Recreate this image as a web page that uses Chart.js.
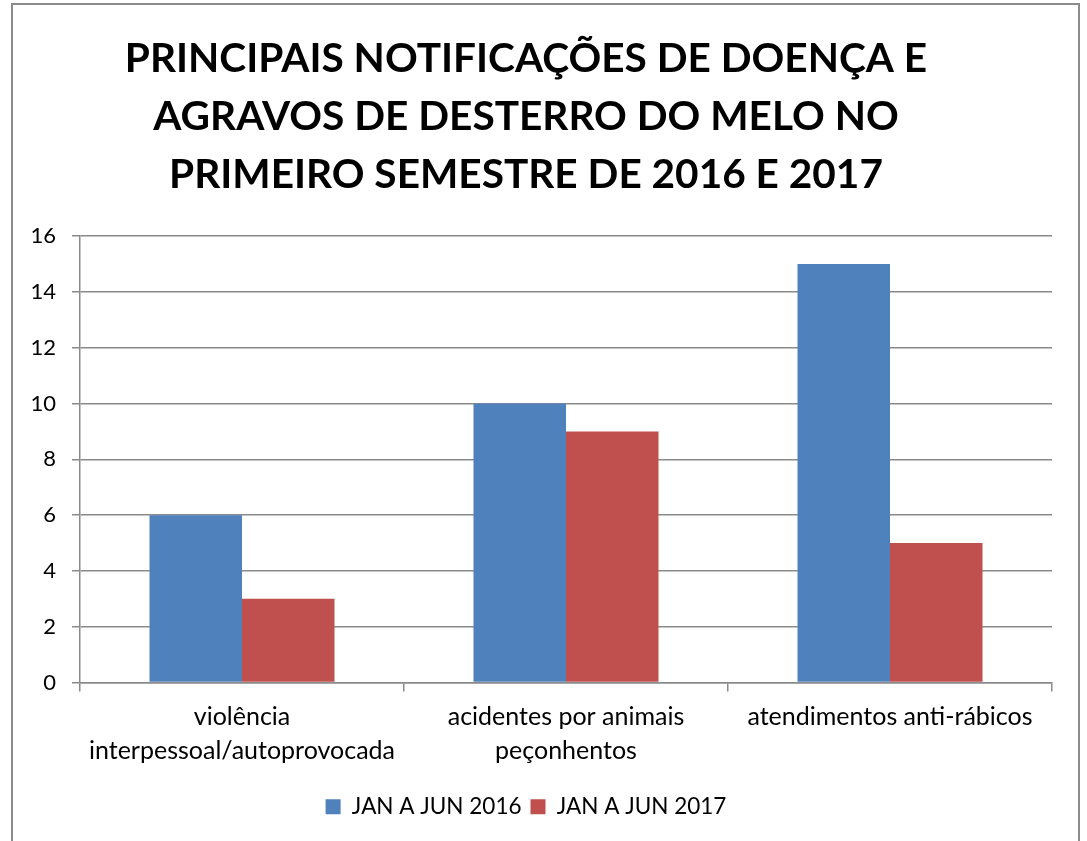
<!DOCTYPE html>
<html>
<head>
<meta charset="utf-8">
<script src="https://cdn.jsdelivr.net/npm/chart.js@4"></script>
<style>
  html, body { margin: 0; padding: 0; background: #fff; }
  #wrap { width: 1087px; height: 841px; }
</style>
</head>
<body>
<div id="wrap"><canvas id="chart" width="1087" height="841"></canvas></div>
<script>
// data
const categories = [
  ["violência", "interpessoal/autoprovocada"],
  ["acidentes por animais", "peçonhentos"],
  "atendimentos anti-rábicos"
];
const series2016 = [6, 10, 15];
const series2017 = [3, 9, 5];
const seriesLabels = ["JAN A JUN 2016", "JAN A JUN 2017"];
const titleLines = [
  "PRINCIPAIS NOTIFICAÇÕES DE DOENÇA E",
  "AGRAVOS DE DESTERRO DO MELO NO",
  "PRIMEIRO SEMESTRE DE 2016 E 2017"
];

const FONT = "Lato, 'Open Sans', sans-serif";
const gridColor = "#8a8a8a";

// outer frame like the office chart border
const framePlugin = {
  id: "frame",
  beforeDraw(chart) {
    const c = chart.ctx;
    c.save();
    c.fillStyle = "#fff";
    c.fillRect(0, 0, chart.width, chart.height);
    c.strokeStyle = "#8c8c8c";
    c.lineWidth = 2;
    c.strokeRect(12, 4, 1067, 900);
    c.restore();
  }
};

const ctx = document.getElementById("chart").getContext("2d");
const chart = new Chart(ctx, {
  type: "bar",
  data: {
    labels: categories,
    datasets: [
      {
        label: seriesLabels[0],
        data: series2016,
        backgroundColor: "#4f81bd",
        borderWidth: 0,
      },
      {
        label: seriesLabels[1],
        data: series2017,
        backgroundColor: "#c0504d",
        borderWidth: 0,
      },
    ],
  },
  options: {
    responsive: false,
    animation: false,
    layout: { padding: { left: 0, right: 35, top: 30, bottom: 13 } },
    datasets: {
      bar: { categoryPercentage: 0.571, barPercentage: 1.0 },
    },
    plugins: {
      title: {
        display: true,
        text: titleLines,
        color: "#000",
        font: { family: FONT, size: 40.6, weight: "bold", lineHeight: 1.43 },
        padding: { top: 0, bottom: 32 },
      },
      legend: {
        display: true,
        position: "bottom",
        labels: {
          color: "#000",
          boxWidth: 15,
          boxHeight: 15,
          padding: 9,
          font: { family: FONT, size: 22.5 },
        },
      },
      tooltip: { enabled: false },
    },
    scales: {
      x: {
        grid: {
          display: true,
          drawOnChartArea: false,
          drawTicks: true,
          tickLength: 9,
          color: gridColor,
          lineWidth: 1.5,
          offset: true,
        },
        border: { display: true, color: gridColor, width: 1.5 },
        ticks: {
          color: "#000",
          maxRotation: 0,
          padding: 8,
          font: { family: FONT, size: 25, lineHeight: 1.36 },
        },
        afterFit(scale) {
          scale.height = 104;
        },
      },
      y: {
        min: 0,
        max: 16,
        ticks: {
          stepSize: 2,
          color: "#000",
          padding: 16,
          font: { family: FONT, size: 22 },
        },
        grid: {
          color: gridColor,
          lineWidth: 1.5,
          tickLength: 8,
        },
        border: { display: true, color: gridColor, width: 1.5 },
        afterFit(scale) {
          scale.width = 80;
        },
      },
    },
  },
  plugins: [framePlugin],
});
</script>
</body>
</html>
